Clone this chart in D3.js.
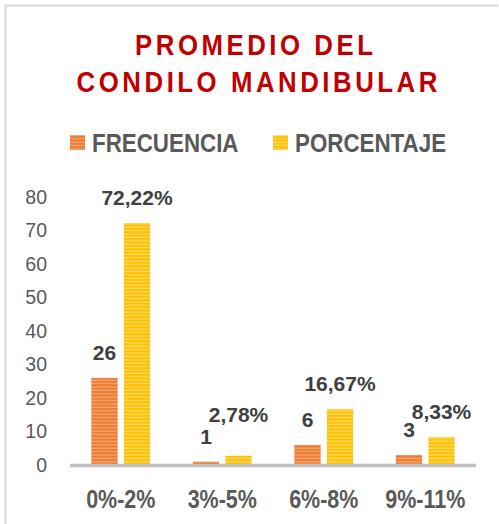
<!DOCTYPE html>
<html>
<head>
<meta charset="utf-8">
<script src="https://cdn.jsdelivr.net/npm/d3@7"></script>
<style>
  body { margin: 0; background: #fff; }
  svg { display: block; font-family: "Liberation Sans", Arial, sans-serif; }
</style>
</head>
<body>
<script>
//==============================================================================
// DATA
//==============================================================================

const categories = ['0%-2%', '3%-5%', '6%-8%', '9%-11%'];
const series = ['FRECUENCIA', 'PORCENTAJE'];
const frecuencia = [26, 1, 6, 3];
const porcentaje = [72.22, 2.78, 16.67, 8.33];
const porcentajeLabels = ['72,22%', '2,78%', '16,67%', '8,33%'];
const yTicks = [0, 10, 20, 30, 40, 50, 60, 70, 80];

//==============================================================================
// PARAMETERS
//==============================================================================

const width = 499;
const height = 524;
const squeeze = 0.86; // narrow look of the original text

const colors = { FRECUENCIA: ['#ED7D31', '#F4A775'], PORCENTAJE: ['#FFC000', '#FFDB6E'] };

const x0 = d3.scaleBand().domain(categories).range([70, 476]);
const bw = x0.bandwidth();
const x1 = d3.scaleBand().domain(series).range([bw * 0.21, bw * 0.79]).paddingInner(0.19);
const y = d3.scaleLinear().domain([0, 80]).range([465, 197]);

const svg = d3.select('body').append('svg')
  .attr('width', width)
  .attr('height', height);

// striped fills
const defs = svg.append('defs');
series.forEach(s => {
  const p = defs.append('pattern')
    .attr('id', 'pat-' + s)
    .attr('patternUnits', 'userSpaceOnUse')
    .attr('width', 8).attr('height', 3.4);
  p.append('rect').attr('width', 8).attr('height', 3.4).attr('fill', colors[s][0]);
  p.append('rect').attr('y', 2.2).attr('width', 8).attr('height', 1.2).attr('fill', colors[s][1]);
});

// border (top and left visible)
svg.append('path')
  .attr('d', 'M5.5,530 V5.5 H498.5')
  .attr('fill', 'none')
  .attr('stroke', '#d9d9d9')
  .attr('stroke-width', 2);

// squeezed text helper
function narrowText(sel, x, yy, str, opts) {
  const g = sel.append('g').attr('transform', `translate(${x},${yy}) scale(${squeeze},1)`);
  const t = g.append('text')
    .attr('text-anchor', opts.anchor || 'middle')
    .attr('font-size', opts.size)
    .attr('font-weight', 'bold')
    .attr('fill', opts.color)
    .attr('letter-spacing', opts.spacing || 0)
    .text(str);
  if (opts.spacing) t.attr('dx', opts.spacing / 2);
  return t;
}

//==============================================================================
// DRAW
//==============================================================================

// title
narrowText(svg, 254, 55, 'PROMEDIO DEL', { size: 30, color: '#C00000', spacing: 4.1 });
narrowText(svg, 257, 92, 'CONDILO MANDIBULAR', { size: 30, color: '#C00000', spacing: 4.1 });

// legend
const legendX = [70, 273];
series.forEach((s, i) => {
  svg.append('rect')
    .attr('x', legendX[i]).attr('y', 135)
    .attr('width', 15).attr('height', 15)
    .attr('fill', `url(#pat-${s})`);
  narrowText(svg, legendX[i] + 22, 152, s, { size: 26, color: '#595959', anchor: 'start' });
});

// y axis labels
svg.append('g')
  .attr('transform', 'translate(47,0)')
  .call(d3.axisLeft(y).tickValues(yTicks).tickSize(0).tickPadding(0))
  .call(g => g.select('.domain').remove())
  .selectAll('text')
  .attr('font-family', '"Liberation Sans", Arial, sans-serif')
  .attr('font-size', 19.5)
  .attr('fill', '#595959');

// bars
const table = categories.map((c, i) => ({
  cat: c,
  values: [
    { key: 'FRECUENCIA', value: frecuencia[i], label: String(frecuencia[i]) },
    { key: 'PORCENTAJE', value: porcentaje[i], label: porcentajeLabels[i] }
  ]
}));

const groups = svg.selectAll('.cat')
  .data(table)
  .enter()
  .append('g')
  .attr('class', 'cat')
  .attr('transform', d => `translate(${x0(d.cat)},0)`);

groups.selectAll('rect')
  .data(d => d.values)
  .enter()
  .append('rect')
  .attr('x', d => x1(d.key))
  .attr('y', d => y(d.value))
  .attr('width', x1.bandwidth())
  .attr('height', d => y(0) - y(d.value))
  .attr('fill', d => `url(#pat-${d.key})`);

// data labels; "2,78%" was lifted in the original to clear the "1"
groups.selectAll('.label')
  .data((d, i) => d.values.map(v => ({ ...v, idx: i })))
  .enter()
  .append('text')
  .attr('class', 'label')
  .attr('x', d => x1(d.key) + x1.bandwidth() / 2)
  .attr('y', d => y(d.value) - (d.key === 'PORCENTAJE' && d.idx === 1 ? 34 : 18))
  .attr('text-anchor', 'middle')
  .attr('font-size', 21)
  .attr('font-weight', 'bold')
  .attr('fill', '#404040')
  .text(d => d.label);

// baseline
svg.append('line')
  .attr('x1', 70).attr('x2', 476)
  .attr('y1', y(0) + 0.5).attr('y2', y(0) + 0.5)
  .attr('stroke', '#bfbfbf')
  .attr('stroke-width', 3.5);

// category labels
categories.forEach(c => {
  narrowText(svg, x0(c) + bw / 2, 508, c, { size: 25, color: '#595959' });
});
</script>
</body>
</html>
